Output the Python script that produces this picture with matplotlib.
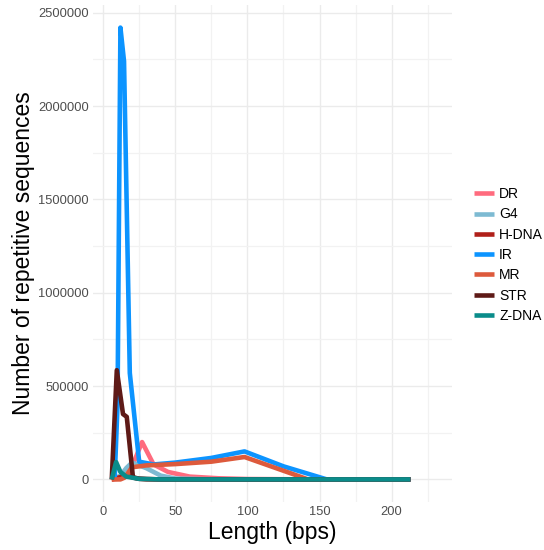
import matplotlib
matplotlib.use("Agg")
import matplotlib.pyplot as plt
from matplotlib.ticker import MultipleLocator, FuncFormatter

plt.rcParams['font.family'] = ['Liberation Sans', 'DejaVu Sans']

series_names = ["DR", "G4", "H-DNA", "IR", "MR", "STR", "Z-DNA"]
colors = ["#FF6B7E", "#7DBAD2", "#B0201A", "#0C94FF", "#DD5A3C", "#5E1A17", "#0A8C8A"]

dr_x = [6, 12, 18, 27, 35, 45, 60, 80, 100, 150, 213]
dr_y = [0, 5000, 30000, 200000, 80000, 40000, 15000, 6000, 2000, 0, 0]

g4_x = [6, 12, 16, 20, 30, 40, 50, 70, 100, 213]
g4_y = [0, 20000, 60000, 90000, 60000, 20000, 5000, 1000, 0, 0]

hdna_x = [6, 10, 15, 20, 25, 30, 50, 213]
hdna_y = [0, 8000, 20000, 12000, 4000, 1000, 0, 0]

ir_x = [8, 10, 12, 14.5, 18.5, 25, 35, 50, 75, 98, 125, 155, 213]
ir_y = [0, 400000, 2420000, 2240000, 570000, 95000, 80000, 90000, 115000, 150000, 70000, 0, 0]

mr_x = [6, 12, 15, 20, 30, 50, 75, 98, 120, 142, 213]
mr_y = [0, 0, 10000, 65000, 75000, 82000, 95000, 120000, 60000, 0, 0]

str_x = [6, 9.5, 13.8, 16.4, 20.7, 25, 40, 213]
str_y = [0, 585000, 350000, 335000, 10000, 3000, 0, 0]

zdna_x = [6, 9, 12, 16, 25, 40, 213]
zdna_y = [0, 93000, 40000, 15000, 3000, 0, 0]

xs = [dr_x, g4_x, hdna_x, ir_x, mr_x, str_x, zdna_x]
ys = [dr_y, g4_y, hdna_y, ir_y, mr_y, str_y, zdna_y]

fig = plt.figure(figsize=(5.44, 5.5), dpi=100)
ax = fig.add_axes([93/544, 48/550, 359/544, 497/550])

handles = []
for name, c, x, y in zip(series_names, colors, xs, ys):
    h, = ax.plot(x, y, color=c, lw=3.3, solid_joinstyle='round', solid_capstyle='butt', label=name)
    handles.append(h)

ax.set_xlim(-7, 241.8)
ax.set_ylim(-121000, 2541000)
ax.xaxis.set_major_locator(MultipleLocator(50))
ax.xaxis.set_minor_locator(MultipleLocator(25))
ax.yaxis.set_major_locator(MultipleLocator(500000))
ax.yaxis.set_minor_locator(MultipleLocator(250000))
ax.grid(True, which='major', color='#EBEBEB', lw=1.0)
ax.grid(True, which='minor', color='#F2F2F2', lw=0.9)
ax.set_axisbelow(True)
for s in ax.spines.values():
    s.set_visible(False)
ax.tick_params(which='both', length=0)
ax.tick_params(axis='both', labelsize=9.3, labelcolor='#4D4D4D', pad=3)
ax.yaxis.set_major_formatter(FuncFormatter(lambda v, p: f"{int(round(v))}"))

ax.set_xlabel("Length (bps)", fontsize=16.5, color='black', labelpad=2)
ax.set_ylabel("Number of repetitive sequences", fontsize=16.5, color='black', labelpad=2.5)

fig.legend(handles=handles, loc='center left', bbox_to_anchor=(468/544, 1 - 255/550),
           frameon=False, fontsize=10, handlelength=1.5, handletextpad=0.35,
           labelspacing=0.45, borderaxespad=0)

fig.savefig("out.png", dpi=100, facecolor='white')
